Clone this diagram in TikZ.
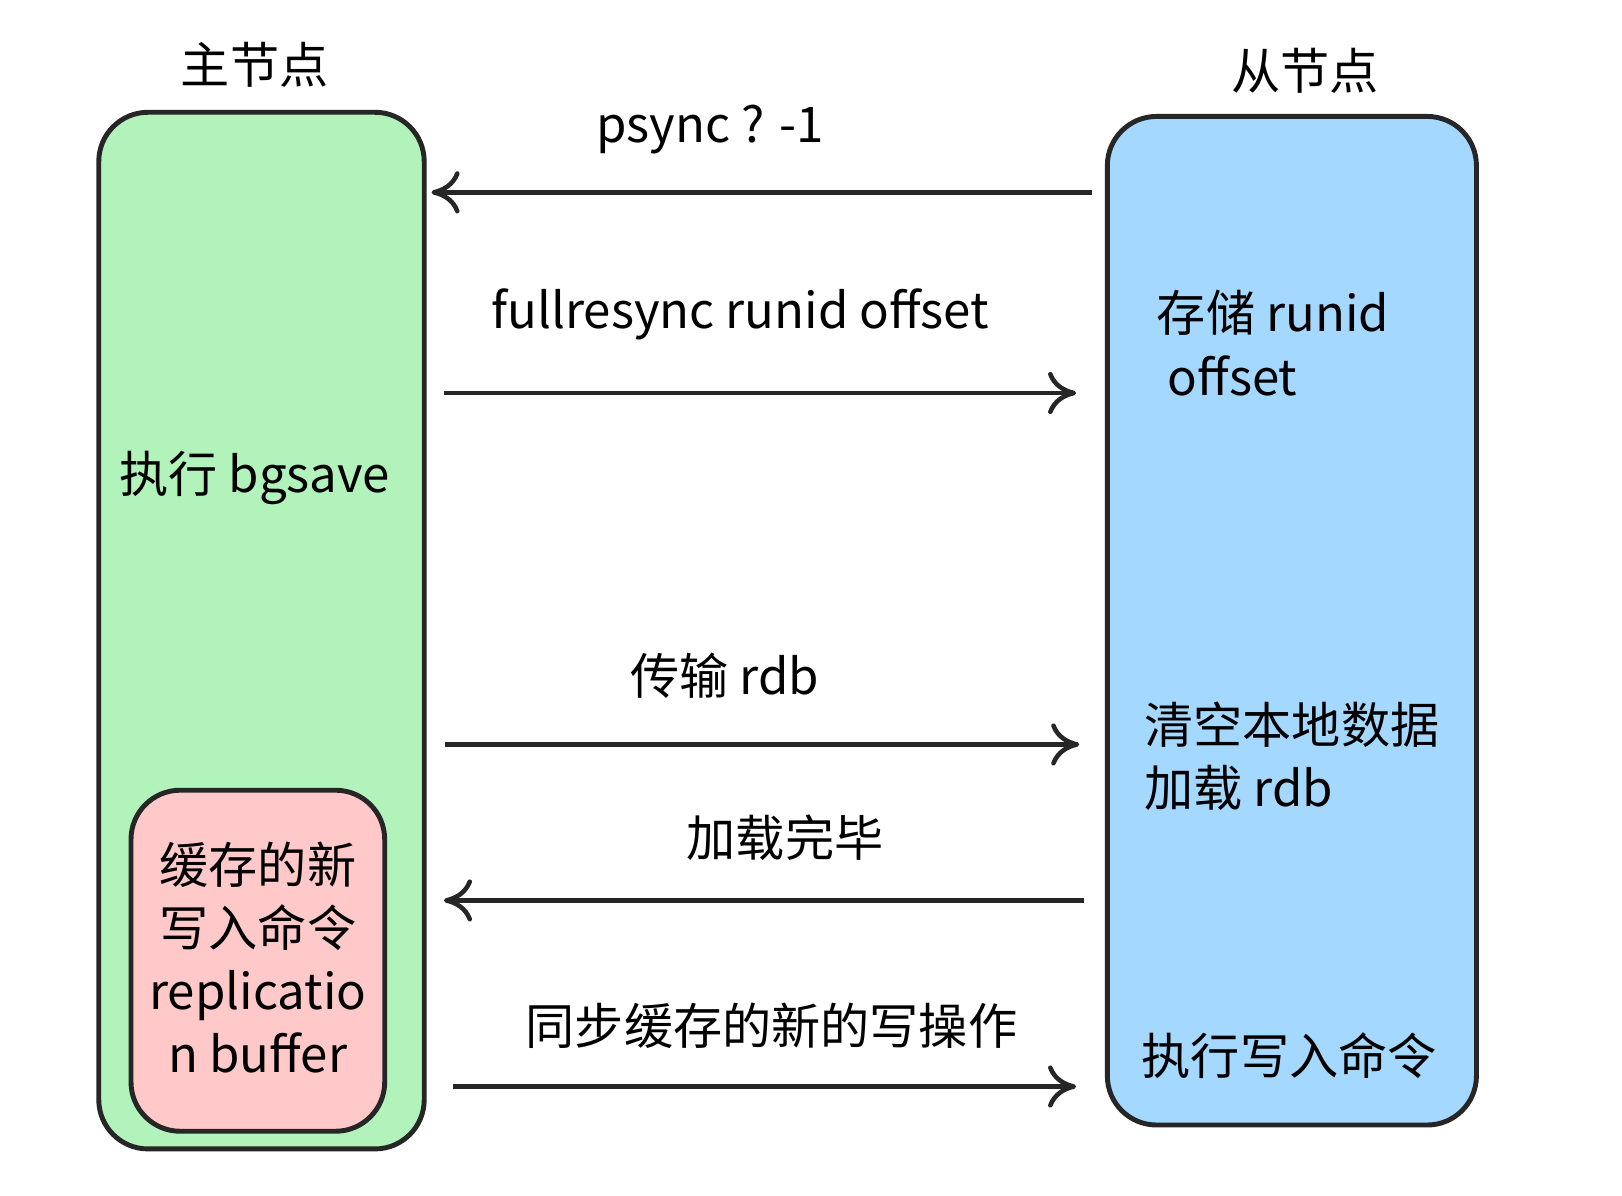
\documentclass[tikz,border=0pt]{standalone}
\usepackage{fontspec}
\setmainfont{Noto Sans CJK SC}
\usetikzlibrary{arrows.meta, positioning}
\definecolor{mastergreen}{HTML}{B2F2BB}
\definecolor{slaveblue}{HTML}{A5D8FF}
\definecolor{bufred}{HTML}{FFC9C9}
\tikzstyle{box}=[draw=black!85, line width=1.4pt, rounded corners=14pt]
\tikzstyle{msg}=[draw=black!85, line width=1.3pt, -{To[length=8pt,width=12pt]}]
\tikzstyle{txt}=[font=\fontsize{14}{17}\selectfont, inner sep=0pt]

\begin{document}
\begin{tikzpicture}[x=0.0104cm, y=-0.0104cm]
  \useasboundingbox (0,0) rectangle (1560,1150);
  \fill[white] (0,0) rectangle (1560,1150);

  \draw[box, fill=mastergreen] (95,108) rectangle (408,1105);
  \draw[box, fill=bufred] (126,760) rectangle (370,1088);
  \draw[box, fill=slaveblue] (1065,112) rectangle (1420,1082);

  \node[txt] (mtitle) at (245,62) {主节点};
  \node[txt] (stitle) at (1255,68) {从节点};

  % messages
  \coordinate (s1) at (1050,185); \coordinate (m1) at (415,185);
  \coordinate (m2) at (427,378); \coordinate (s2) at (1035,378);
  \coordinate (m3) at (428,716); \coordinate (s3) at (1038,716);
  \coordinate (s4) at (1043,866); \coordinate (m4) at (427,866);
  \coordinate (m5) at (436,1045); \coordinate (s5) at (1035,1045);
  \draw[msg] (s1) -- (m1);
  \draw[msg] (m2) -- (s2);
  \draw[msg] (m3) -- (s3);
  \draw[msg] (s4) -- (m4);
  \draw[msg] (m5) -- (s5);

  \node[txt] (l1) at (683,125) {psync ? -1};
  \node[txt] (l2) at (712,302) {fullresync runid offset};
  \node[txt] (l3) at (697,650) {传输 rdb};
  \node[txt] (l4) at (755,806) {加载完毕};
  \node[txt] (l5) at (742,987) {同步缓存的新的写操作};

  \node[txt] (bgsave) at (245,460) {执行 bgsave};
  \node[txt, align=center] (buf) at (248,921) {缓存的新\\[1pt]写入命令\\[1pt]replicatio\\[1pt]n buffer};

  \node[txt, align=left, anchor=west] (store) at (1112,330) {存储 runid\\[1pt]\ offset};
  \node[txt, align=left, anchor=west] (load) at (1100,727) {清空本地数据\\[1pt]加载 rdb};
  \node[txt] (exec) at (1240,1015) {执行写入命令};
\end{tikzpicture}
\end{document}
